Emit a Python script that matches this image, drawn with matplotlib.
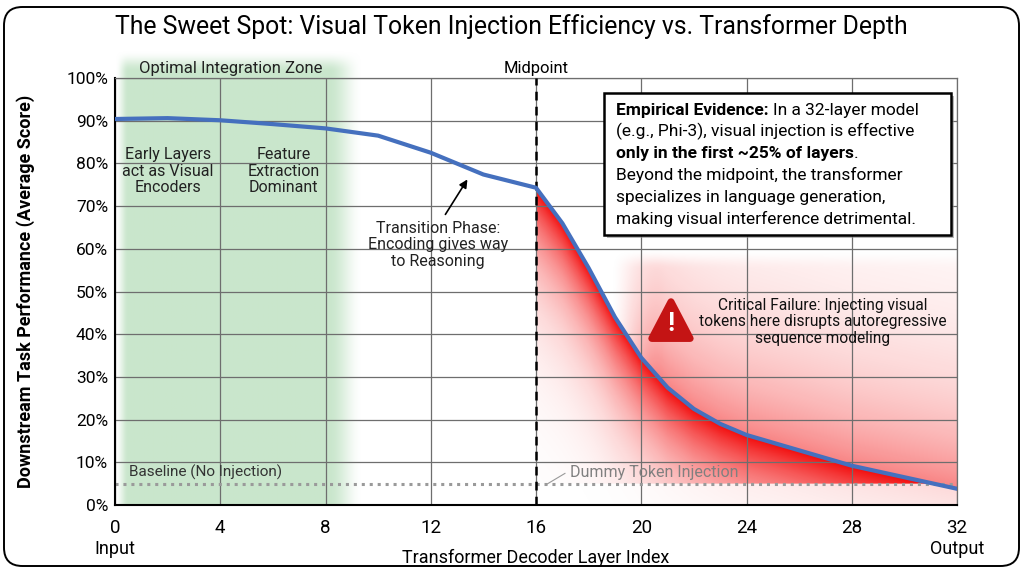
import numpy as np
import matplotlib
matplotlib.use('Agg')
import matplotlib.pyplot as plt
from matplotlib.patches import Polygon, Rectangle, FancyBboxPatch

# data
layers = [0, 2, 4, 6, 8, 10, 12, 14, 16, 17, 18, 19, 20, 21, 22, 23, 24, 26, 28, 30, 32]
perf = [90.4, 90.6, 90.1, 89.2, 88.2, 86.5, 82.5, 77.4, 74.3, 66, 55.5, 44, 34.5,
        27.5, 22.5, 19, 16.4, 12.8, 9.2, 6.5, 3.8]
baseline = 5
midpoint = 16
xticks = [0, 4, 8, 12, 16, 20, 24, 28, 32]
yticks = [0, 10, 20, 30, 40, 50, 60, 70, 80, 90, 100]

W, H = 1024, 572
plt.rcParams['font.family'] = ['Roboto', 'DejaVu Sans']

fig = plt.figure(figsize=(W / 100, H / 100), dpi=100)
ax = fig.add_axes([115 / W, 1 - 505 / H, 842 / W, 427 / H])


def smooth(t):
    t = np.clip(t, 0, 1)
    return t * t * (3 - 2 * t)


# green optimal zone glow
gx = np.linspace(0, 9.4, 300)
gy = np.linspace(0, 106.5, 300)
GX, GY = np.meshgrid(gx, gy)
ga = smooth(GX / 0.5) * smooth((9.4 - GX) / 1.3) * smooth((106.5 - GY) / 5)
green = np.zeros(GX.shape + (4,))
green[..., 0], green[..., 1], green[..., 2] = 0.79, 0.905, 0.80
green[..., 3] = ga
ax.imshow(green, extent=(0, 9.4, 0, 106.5), origin='lower', aspect='auto',
          interpolation='bilinear', zorder=0.2, clip_on=False)

# red failure gradient
rx = np.linspace(16, 32, 500)
ry = np.linspace(0, 78, 500)
RX, RY = np.meshgrid(rx, ry)
C = np.interp(RX, layers, perf)
below = (RY <= C) & (RY >= baseline)
a_below = np.exp(-(C - RY) / 15.0)
a_above = 0.5 * np.exp(-(RY - C) / 22.0) * smooth((RX - 18.8) / 2.0) * smooth((60 - RY) / 5.0)
alpha = np.where(below, a_below, np.where(RY > C, a_above, 0.15 * a_below))
red = np.zeros(RX.shape + (4,))
red[..., 0], red[..., 1], red[..., 2] = 0.95, 0.03, 0.03
red[..., 3] = np.clip(alpha, 0, 1)
ax.imshow(red, extent=(16, 32, 0, 78), origin='lower', aspect='auto',
          interpolation='bilinear', zorder=0.3)

ax.set_xlim(0, 32)
ax.set_ylim(0, 100)
ax.set_xticks(xticks)
ax.set_yticks(yticks)
ax.set_yticklabels([f'{v}%' for v in yticks])
ax.tick_params(axis='y', length=0, pad=5, labelsize=12.5)
ax.tick_params(axis='x', length=0, pad=10, labelsize=13.5)
ax.set_axisbelow(True)
ax.grid(True, color='#6e6e6e', lw=0.9)
for s in ['top', 'right']:
    ax.spines[s].set_color('#6e6e6e')
    ax.spines[s].set_linewidth(0.9)
for s in ['left', 'bottom']:
    ax.spines[s].set_color('black')
    ax.spines[s].set_linewidth(1.5)

ax.axhline(baseline, color='#9a9a9a', ls=(0, (1, 1.6)), lw=2.2, zorder=2)
ax.axvline(midpoint, color='black', ls=(0, (3.5, 2.5)), lw=1.8, zorder=3)
ax.plot(layers, perf, color='#4570BE', lw=3, solid_capstyle='round', zorder=4)

ax.set_ylabel('Downstream Task Performance (Average Score)', fontsize=13, fontweight='bold')
ax.yaxis.set_label_coords(-80 / 842, 0.5)
ax.set_xlabel('Transformer Decoder Layer Index', fontsize=13)
ax.xaxis.set_label_coords(0.5, -44 / 427)
ax.text(0, -44 / 427, 'Input', transform=ax.get_xaxis_transform(), ha='center', va='center', fontsize=13)
ax.text(32, -44 / 427, 'Output', transform=ax.get_xaxis_transform(), ha='center', va='center', fontsize=13)

fig.text(0.499, 1 - 27 / H, 'The Sweet Spot: Visual Token Injection Efficiency vs. Transformer Depth',
         ha='center', va='center', fontsize=17.8)

# annotations
ax.text(4.4, 102.3, 'Optimal Integration Zone', ha='center', va='center', fontsize=12, color='#222222')
ax.text(16, 102.3, 'Midpoint', ha='center', va='center', fontsize=12)
ax.text(2.0, 78.2, 'Early Layers\nact as Visual\nEncoders', ha='center', va='center',
        fontsize=11.5, linespacing=1.15, color='#222222')
ax.text(6.4, 78.2, 'Feature\nExtraction\nDominant', ha='center', va='center',
        fontsize=11.5, linespacing=1.15, color='#222222')
ax.text(12.28, 60.9, 'Transition Phase:\nEncoding gives way\nto Reasoning', ha='center', va='center',
        fontsize=11.5, linespacing=1.15, color='#222222')
ax.annotate('', xy=(13.45, 76.8), xytext=(12.5, 67.5),
            arrowprops=dict(arrowstyle='-|>', color='black', lw=1.2, mutation_scale=12))
ax.text(0.53, 7.7, 'Baseline (No Injection)', ha='left', va='center', fontsize=11, color='#333333')
ax.plot([16.42, 17.1], [4.9, 7.4], color='#999999', lw=0.8, zorder=2)
ax.text(17.29, 7.5, 'Dummy Token Injection', ha='left', va='center', fontsize=11.5, color='#808080')

ax.add_patch(Polygon([(21.13, 47.6), (20.4, 39.0), (21.86, 39.0)], closed=True,
                     fc='#C41414', ec='#C41414', lw=5, joinstyle='round', zorder=5))
ax.text(21.13, 42.3, '!', ha='center', va='center', fontsize=19, fontweight='bold', color='white', zorder=6)
ax.text(26.9, 42.9, 'Critical Failure: Injecting visual\ntokens here disrupts autoregressive\nsequence modeling',
        ha='center', va='center', fontsize=11.2, linespacing=1.15, color='#111111', zorder=6)

# evidence box
bx, by, bw, bh = 604, 93, 347, 142
fig.patches.append(Rectangle(((bx + 3) / W, 1 - (by + bh + 3) / H), bw / W, bh / H,
                             transform=fig.transFigure, fc='#8a8a8a', ec='none', alpha=0.6, zorder=8))
fig.patches.append(Rectangle((bx / W, 1 - (by + bh) / H), bw / W, bh / H,
                             transform=fig.transFigure, fc='white', ec='black', lw=1.8, zorder=9))

renderer = fig.canvas.get_renderer()
box_size = 12.5


def text_width(s, weight):
    t = fig.text(0, 0, s, fontsize=box_size, fontweight=weight)
    w = t.get_window_extent(renderer).width
    t.remove()
    return w


space_w = text_width('a a', 'normal') - text_width('aa', 'normal')


def rich_line(x_px, y_px, parts):
    x = x_px
    for i, (s, weight) in enumerate(parts):
        t = fig.text(x / W, 1 - y_px / H, s, fontsize=box_size, fontweight=weight,
                     ha='left', va='center', zorder=10)
        x += t.get_window_extent(renderer).width
        if i < len(parts) - 1 and parts[i + 1][0][0] != '.':
            x += space_w


box_lines = [
    [('Empirical Evidence:', 'bold'), ('In a 32-layer model', 'normal')],
    [('(e.g., Phi-3), visual injection is effective', 'normal')],
    [('only in the first ~25% of layers', 'bold'), ('.', 'normal')],
    [('Beyond the midpoint, the transformer', 'normal')],
    [('specializes in language generation,', 'normal')],
    [('making visual interference detrimental.', 'normal')],
]
for i, parts in enumerate(box_lines):
    rich_line(616, 110 + i * 21.8, parts)

# outer rounded frame
fig.patches.append(FancyBboxPatch((4 / W, 6 / H), 1015 / W, 559 / H, transform=fig.transFigure,
                                  boxstyle='round,pad=0,rounding_size=0.018', mutation_aspect=W / H,
                                  fill=False, ec='black', lw=1.4, zorder=20))

fig.savefig('out.png', dpi=100)
